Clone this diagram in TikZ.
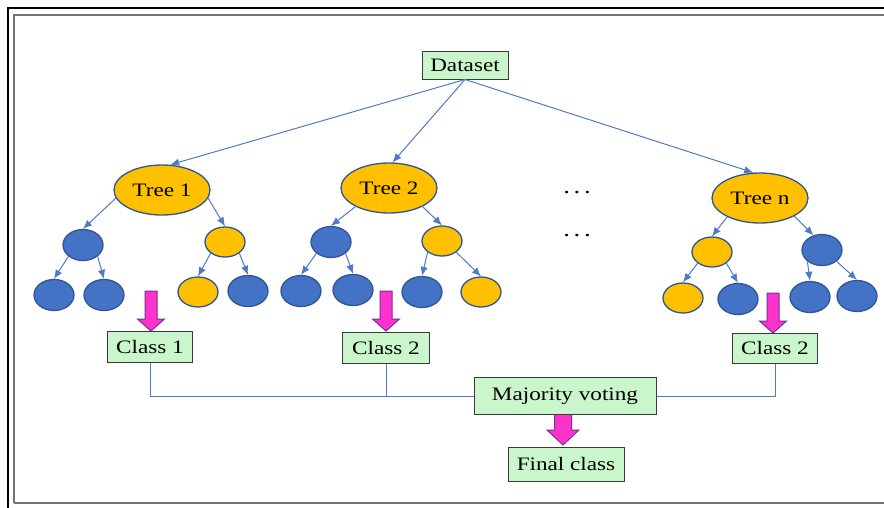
\documentclass[tikz,border=0pt]{standalone}
\usepackage{fontspec}
\setmainfont{Liberation Serif}[FakeStretch=1.22]
\usetikzlibrary{arrows.meta,shapes.geometric}
\definecolor{gbox}{HTML}{C9F7CB}
\definecolor{gline}{HTML}{3A3A3A}
\definecolor{orng}{HTML}{FFC000}
\definecolor{blu}{HTML}{4472C4}
\definecolor{dblu}{HTML}{2F5597}
\definecolor{lnk}{HTML}{4F7AC7}
\definecolor{pnk}{HTML}{FF33CC}
\definecolor{prp}{HTML}{7030A0}
\begin{document}
\begin{tikzpicture}[x=1pt,y=-1pt,
  lbl/.style={font=\fontsize{19}{21}\selectfont},
  gboxs/.style={draw=gline,line width=1pt,fill=gbox,lbl,inner sep=0pt},
  treeo/.style={ellipse,draw=dblu,line width=1.3pt,fill=orng,minimum width=96pt,minimum height=50pt,inner sep=0pt,lbl},
  oleaf/.style={ellipse,draw=dblu,line width=1.3pt,fill=orng,minimum width=40pt,minimum height=30pt,inner sep=0pt},
  bleaf/.style={ellipse,draw=dblu,line width=1.3pt,fill=blu,minimum width=40pt,minimum height=31pt,inner sep=0pt},
  arr/.style={draw=lnk,line width=1pt,-{Latex[length=9pt,width=7.5pt]}},
  conn/.style={draw=lnk,line width=1pt},
  pinkarr/.pic={\draw[fill=pnk,draw=prp,line width=1pt] (-6,0) -- (6,0) -- (6,28) -- (13.5,28) -- (0,40) -- (-13.5,28) -- (-6,28) -- cycle;},
  pinkarrb/.pic={\draw[fill=pnk,draw=prp,line width=1pt] (-8.5,0) -- (8.5,0) -- (8.5,16) -- (16,16) -- (0,31) -- (-16,16) -- (-8.5,16) -- cycle;}
  ]
\useasboundingbox (0,0) rectangle (884,507);
\fill[white] (0,0) rectangle (884,507);
% frame
\draw[line width=2.5pt,black] (8,520) -- (8,8) -- (900,8);
\draw[line width=1.5pt,black!55] (14,503) -- (14,15) -- (900,15);
\draw[line width=1.5pt,black!55] (14,503) -- (900,503);

% dataset
\node[gboxs,minimum width=86pt,minimum height=28pt] (ds) at (465,65) {Dataset};

% trees
\node[treeo] (t1) at (162,190) {Tree 1};
\node[treeo] (t2) at (389,188) {Tree 2};
\node[treeo] (tn) at (760,198) {Tree n};

% tree 1
\node[bleaf] (a1) at (83,245) {};
\node[oleaf] (a2) at (225,242) {};
\node[bleaf] (a11) at (54,295) {};
\node[bleaf] (a12) at (104,295) {};
\node[oleaf] (a21) at (198,292) {};
\node[bleaf] (a22) at (248,291) {};
% tree 2
\node[bleaf] (b1) at (331,242) {};
\node[oleaf] (b2) at (442,241) {};
\node[bleaf] (b11) at (301,291) {};
\node[bleaf] (b12) at (353,290) {};
\node[bleaf] (b21) at (422,292) {};
\node[oleaf] (b22) at (481,292) {};
% tree n
\node[oleaf] (n1) at (712,252) {};
\node[bleaf] (n2) at (822,250) {};
\node[oleaf] (n11) at (683,298) {};
\node[bleaf] (n12) at (738,299) {};
\node[bleaf] (n21) at (810,297) {};
\node[bleaf] (n22) at (857,296) {};

% dataset arrows
\draw[arr] (ds.south) -- (t1.72);
\draw[arr] (ds.south) -- (t2.82);
\draw[arr] (ds.south) -- (tn.105);

% tree edges
\draw[arr] (t1.190) -- (a1.north);
\draw[arr] (t1.350) -- (a2.north);
\draw[arr] (t2.209) -- (b1.north);
\draw[arr] (t2.331) -- (b2.north);
\draw[arr] (tn.210) -- (n1.north);
\draw[arr] (tn.332) -- (n2.120);
\foreach \p/\l/\r in {a1/a11/a12, a2/a21/a22, b1/b11/b12, b2/b21/b22, n1/n11/n12, n2/n21/n22}{
  \draw[arr] (\p.218) -- (\l.north);
  \draw[arr] (\p.322) -- (\r.north);
}

% dots
\node[font=\fontsize{22}{22}\selectfont] (d1) at (577,193) {.\,.\,.};
\node[font=\fontsize{22}{22}\selectfont] (d2) at (577,236) {.\,.\,.};

% pink arrows
\pic at (151,291) {pinkarr};
\pic at (386,291) {pinkarr};
\pic at (773,293) {pinkarr};
\pic at (563,414) {pinkarrb};

% class boxes
\node[gboxs,minimum width=85pt,minimum height=31pt] (c1) at (150,347) {Class 1};
\node[gboxs,minimum width=87pt,minimum height=31pt] (c2) at (386,348) {Class 2};
\node[gboxs,minimum width=85pt,minimum height=30pt] (c3) at (775,348) {Class 2};
\node[gboxs,minimum width=182pt,minimum height=37pt] (mv) at (565,396) {Majority voting};
\node[gboxs,minimum width=116pt,minimum height=34pt] (fc) at (566,464) {Final class};

% connectors
\coordinate (j1) at (c1.south |- mv.west);
\coordinate (j2) at (c2.south |- mv.west);
\coordinate (j3) at (c3.south |- mv.east);
\draw[conn] (c1.south) -- (j1) -- (mv.west);
\draw[conn] (c2.south) -- (j2);
\draw[conn] (c3.south) -- (j3) -- (mv.east);
\end{tikzpicture}
\end{document}
